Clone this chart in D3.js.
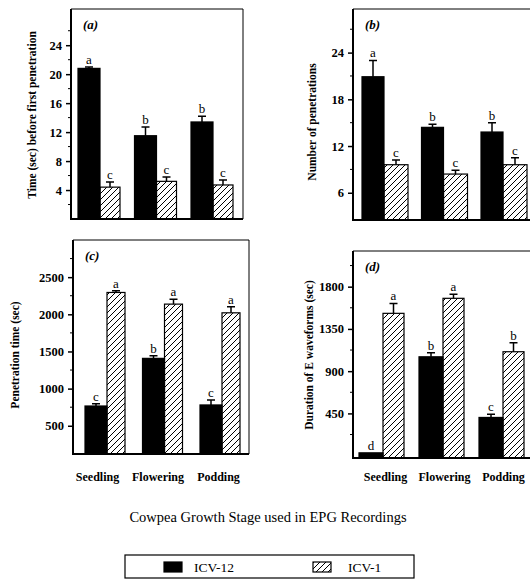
<!DOCTYPE html>
<html>
<head>
<meta charset="utf-8">
<script src="https://cdn.jsdelivr.net/npm/d3@7"></script>
<style>
  body { margin: 0; background: #fff; }
  svg { display: block; font-family: "Liberation Serif", "DejaVu Serif", serif; }
  text { fill: #000; }
</style>
</head>
<body>
<div id="chart"></div>
<script>
// categories and series
const stages = ["Seedling", "Flowering", "Podding"];
const varieties = ["ICV-12", "ICV-1"];

// (a) time before first penetration (sec)
const firstPenICV12 = [20.8, 11.5, 13.4];
const firstPenICV12Err = [0.2, 1.2, 0.8];
const firstPenICV1 = [4.4, 5.2, 4.7];
const firstPenICV1Err = [0.7, 0.6, 0.7];
const firstPenLetters12 = ["a", "b", "b"];
const firstPenLetters1 = ["c", "c", "c"];

// (b) number of penetrations
const nPenICV12 = [20.9, 14.4, 13.8];
const nPenICV12Err = [2.1, 0.4, 1.2];
const nPenICV1 = [9.6, 8.4, 9.6];
const nPenICV1Err = [0.6, 0.5, 0.9];
const nPenLetters12 = ["a", "b", "b"];
const nPenLetters1 = ["c", "c", "c"];

// (c) penetration time (sec)
const penTimeICV12 = [766, 1407, 780];
const penTimeICV12Err = [30, 35, 67];
const penTimeICV1 = [2294, 2137, 2020];
const penTimeICV1Err = [22, 67, 81];
const penTimeLetters12 = ["c", "b", "c"];
const penTimeLetters1 = ["a", "a", "a"];

// (d) duration of E waveforms (sec)
const eDurICV12 = [30, 1053, 407];
const eDurICV12Err = [0, 43, 35];
const eDurICV1 = [1516, 1676, 1107];
const eDurICV1Err = [106, 42, 96];
const eDurLetters12 = ["d", "b", "c"];
const eDurLetters1 = ["a", "a", "b"];

const ticksA = [4, 8, 12, 16, 20, 24];
const ticksB = [6, 12, 18, 24];
const ticksC = [500, 1000, 1500, 2000, 2500];
const ticksD = [450, 900, 1350, 1800];

const W = 530, H = 579;

const svg = d3.select("#chart").append("svg")
    .attr("width", W)
    .attr("height", H);

// hatch pattern for ICV-1
svg.append("defs").append("pattern")
    .attr("id", "hatch")
    .attr("patternUnits", "userSpaceOnUse")
    .attr("width", 6)
    .attr("height", 6)
  .append("path")
    .attr("d", "M-1,1 l2,-2 M0,6 l6,-6 M5,7 l2,-2")
    .attr("stroke", "#000")
    .attr("stroke-width", 1);

const panels = [
    {tag: "(a)", left: 71, top: 9, right: 243, bottom: 219, domain: [0, 29], ticks: ticksA,
     minor: [2, 6, 10, 14, 18, 22, 26], centers: [100, 213], bw: [22, 20],
     v12: firstPenICV12, e12: firstPenICV12Err, v1: firstPenICV1, e1: firstPenICV1Err,
     l12: firstPenLetters12, l1: firstPenLetters1,
     ylabel: "Time (sec) before first penetration", ylx: 32, yly: 115, xlabels: null},
    {tag: "(b)", left: 353, top: 9, right: 540, bottom: 220, domain: [2.5, 29.6], ticks: ticksB,
     minor: [9, 15, 21, 27], centers: [384, 503], bw: [22, 24],
     v12: nPenICV12, e12: nPenICV12Err, v1: nPenICV1, e1: nPenICV1Err,
     l12: nPenLetters12, l1: nPenLetters1,
     ylabel: "Number of penetrations", ylx: 312, yly: 122, xlabels: null},
    {tag: "(c)", left: 73, top: 240, right: 249, bottom: 454, domain: [120, 3000], ticks: ticksC,
     minor: [750, 1250, 1750, 2250, 2750], centers: [107, 222], bw: [22, 18],
     v12: penTimeICV12, e12: penTimeICV12Err, v1: penTimeICV1, e1: penTimeICV1Err,
     l12: penTimeLetters12, l1: penTimeLetters1,
     ylabel: "Penetration time (sec)", ylx: 15, yly: 355, xlabels: [97, 218]},
    {tag: "(d)", left: 353, top: 251, right: 540, bottom: 458, domain: [-25, 2180], ticks: ticksD,
     minor: [225, 675, 1125, 1575, 2025], centers: [383, 503], bw: [24, 21],
     v12: eDurICV12, e12: eDurICV12Err, v1: eDurICV1, e1: eDurICV1Err,
     l12: eDurLetters12, l1: eDurLetters1,
     ylabel: "Duration of E waveforms (sec)", ylx: 309, yly: 355, xlabels: [385, 503]}
];

panels.forEach(p => {
    const g = svg.append("g");

    const x = d3.scalePoint().domain(stages).range(p.centers);
    const y = d3.scaleLinear().domain(p.domain).range([p.bottom, p.top]);

    // thin frame top and right
    g.append("path")
        .attr("d", `M${p.left},${p.top} H${p.right} V${p.bottom}`)
        .attr("fill", "none")
        .attr("stroke", "#000")
        .attr("stroke-width", 1);

    // one black + one hatched bar per stage
    const bars = [];
    stages.forEach((s, i) => {
        bars.push({x0: x(s) - p.bw[0], w: p.bw[0], v: p.v12[i], e: p.e12[i], lab: p.l12[i], fill: "#000"});
        bars.push({x0: x(s), w: p.bw[1], v: p.v1[i], e: p.e1[i], lab: p.l1[i], fill: "url(#hatch)"});
    });

    g.selectAll("rect.bar")
        .data(bars)
        .join("rect")
            .attr("class", "bar")
            .attr("x", d => d.x0)
            .attr("y", d => y(d.v))
            .attr("width", d => d.w)
            .attr("height", d => p.bottom - y(d.v))
            .attr("fill", d => d.fill)
            .attr("stroke", "#000")
            .attr("stroke-width", 1.2);

    // error bars
    g.selectAll("path.err")
        .data(bars.filter(d => d.e > 0))
        .join("path")
            .attr("class", "err")
            .attr("d", d => {
                const cx = d.x0 + d.w / 2;
                return `M${cx},${y(d.v)} V${y(d.v + d.e)} M${cx - 4},${y(d.v + d.e)} H${cx + 4}`;
            })
            .attr("fill", "none")
            .attr("stroke", "#000")
            .attr("stroke-width", 1.5);

    // significance letters
    g.selectAll("text.sig")
        .data(bars)
        .join("text")
            .attr("class", "sig")
            .attr("x", d => d.x0 + d.w / 2)
            .attr("y", d => y(d.v + d.e) - 3)
            .attr("text-anchor", "middle")
            .attr("font-size", 13)
            .attr("fill", "#000")
            .text(d => d.lab);

    // y axis
    const yAxis = g.append("g")
        .attr("transform", `translate(${p.left},0)`)
        .call(d3.axisLeft(y).tickValues(p.ticks).tickSize(5).tickPadding(4).tickFormat(d3.format("d")));
    yAxis.attr("font-family", null);
    yAxis.select(".domain").remove();
    yAxis.selectAll(".tick text")
        .attr("font-size", 12.5)
        .attr("font-weight", "bold")
        .attr("fill", "#000");
    yAxis.selectAll(".tick line").attr("stroke-width", 1.5);

    g.selectAll("line.minor")
        .data(p.minor.filter(v => v > p.domain[0] && v < p.domain[1]))
        .join("line")
            .attr("class", "minor")
            .attr("x1", p.left - 3)
            .attr("x2", p.left)
            .attr("y1", d => y(d))
            .attr("y2", d => y(d))
            .attr("stroke", "#000")
            .attr("stroke-width", 1);

    // thick left and bottom axis lines
    g.append("path")
        .attr("d", `M${p.left},${p.top} V${p.bottom} H${p.right}`)
        .attr("fill", "none")
        .attr("stroke", "#000")
        .attr("stroke-width", 2);

    // panel tag
    g.append("text")
        .attr("x", p.left + 12)
        .attr("y", p.top + 20)
        .attr("font-size", 13)
        .attr("font-style", "italic")
        .attr("font-weight", "bold")
        .text(p.tag);

    // y label
    g.append("text")
        .attr("transform", `translate(${p.ylx},${p.yly}) rotate(-90)`)
        .attr("text-anchor", "middle")
        .attr("dy", "0.35em")
        .attr("font-size", 11.5)
        .attr("font-weight", "bold")
        .text(p.ylabel);

    // stage labels under bottom panels
    if (p.xlabels) {
        const xl = d3.scalePoint().domain(stages).range(p.xlabels);
        const xAxis = g.append("g")
            .attr("transform", `translate(0,481)`)
            .call(d3.axisBottom(xl).tickSize(0).tickPadding(0));
        xAxis.attr("font-family", null);
        xAxis.select(".domain").remove();
        xAxis.selectAll(".tick text")
            .attr("dy", 0)
            .attr("font-size", 12)
            .attr("font-weight", "bold")
            .attr("fill", "#000");
    }
});

// overall x title
svg.append("text")
    .attr("x", 268)
    .attr("y", 522)
    .attr("text-anchor", "middle")
    .attr("font-size", 14.5)
    .text("Cowpea Growth Stage used in EPG Recordings");

// legend
const legend = svg.append("g");
legend.append("rect")
    .attr("x", 125).attr("y", 555)
    .attr("width", 289).attr("height", 23)
    .attr("fill", "none")
    .attr("stroke", "#000")
    .attr("stroke-width", 1.2);

const legendItems = [
    {name: varieties[0], fill: "#000", sx: 164, tx: 194},
    {name: varieties[1], fill: "url(#hatch)", sx: 313, tx: 348}
];
legend.selectAll("rect.sw")
    .data(legendItems)
    .join("rect")
        .attr("class", "sw")
        .attr("x", d => d.sx).attr("y", 562)
        .attr("width", 18).attr("height", 10)
        .attr("fill", d => d.fill)
        .attr("stroke", "#000")
        .attr("stroke-width", 1.2);
legend.selectAll("text.lt")
    .data(legendItems)
    .join("text")
        .attr("class", "lt")
        .attr("x", d => d.tx).attr("y", 572)
        .attr("font-size", 13.5)
        .text(d => d.name);
</script>
</body>
</html>
